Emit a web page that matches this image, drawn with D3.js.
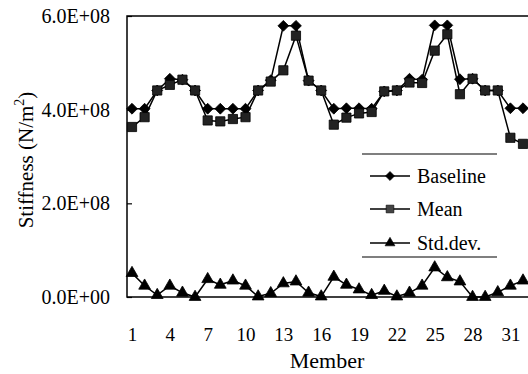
<!DOCTYPE html>
<html>
<head>
<meta charset="utf-8">
<script src="https://cdn.jsdelivr.net/npm/d3@7"></script>
<style>
  body { margin: 0; background: #fff; }
  svg text { font-family: "Liberation Serif", "Times New Roman", Tinos, "DejaVu Serif", serif; fill: #000; }
</style>
</head>
<body>
<div id="chart"></div>
<script>
// member numbers and stiffness values (x 1E+08 N/m2)
var members = d3.range(1, 33);
var baseline = [4.02, 4.02, 4.41, 4.66, 4.64, 4.41, 4.02, 4.02, 4.02, 4.02, 4.41, 4.63, 5.79, 5.79, 4.62, 4.41,
                4.02, 4.03, 4.03, 4.02, 4.39, 4.41, 4.66, 4.64, 5.80, 5.80, 4.65, 4.66, 4.41, 4.41, 4.03, 4.03];
var mean = [3.63, 3.84, 4.41, 4.53, 4.64, 4.41, 3.77, 3.75, 3.80, 3.84, 4.41, 4.60, 4.84, 5.58, 4.62, 4.41,
            3.68, 3.83, 3.92, 3.95, 4.39, 4.41, 4.58, 4.57, 5.26, 5.61, 4.33, 4.66, 4.41, 4.41, 3.40, 3.27];
var stddev = [0.51, 0.24, 0.04, 0.24, 0.09, 0.00, 0.38, 0.26, 0.35, 0.24, 0.01, 0.08, 0.29, 0.33, 0.09, 0.01,
              0.43, 0.26, 0.16, 0.04, 0.13, 0.01, 0.09, 0.24, 0.63, 0.42, 0.33, 0.00, 0.00, 0.10, 0.24, 0.35];
var xTicks = [1, 4, 7, 10, 13, 16, 19, 22, 25, 28, 31];
var yTicks = [0, 2e8, 4e8, 6e8];
var yTickLabels = ["0.0E+00", "2.0E+08", "4.0E+08", "6.0E+08"];

var width = 528, height = 374;
var plotLeft = 127, plotTop = 16, plotBottom = 297;
var serif = "'Liberation Serif', 'Times New Roman', Tinos, 'DejaVu Serif', serif";

var svg = d3.select("#chart")
    .append("svg")
    .attr("width", width)
    .attr("height", height);

var x = d3.scaleLinear()
    .domain([1, 32])
    .range([132, 523]);

var y = d3.scaleLinear()
    .domain([0, 6e8])
    .range([plotBottom, plotTop]);

// frame
svg.append("path")
    .attr("d", "M" + width + "," + plotTop + "H" + plotLeft + "V" + plotBottom + "H" + width)
    .attr("fill", "none")
    .attr("stroke", "#000")
    .attr("stroke-width", 1.5);

// y axis
var yAxis = svg.append("g")
    .attr("transform", "translate(" + plotLeft + ",0)")
    .call(d3.axisLeft(y)
        .tickValues(yTicks)
        .tickFormat((d, i) => yTickLabels[i])
        .tickSizeInner(-5)
        .tickSizeOuter(0)
        .tickPadding(17));
yAxis.attr("font-family", serif);
yAxis.select(".domain").remove();
yAxis.selectAll("line").attr("stroke-width", 1.2);
yAxis.selectAll("text")
    .attr("font-size", "20px");

// x axis
var xAxis = svg.append("g")
    .attr("transform", "translate(0," + plotBottom + ")")
    .call(d3.axisBottom(x)
        .tickValues(xTicks)
        .tickSize(0)
        .tickPadding(31));
xAxis.attr("font-family", serif);
xAxis.select(".domain").remove();
xAxis.selectAll("text")
    .attr("font-size", "19px");

// axis titles
svg.append("text")
    .attr("x", 327)
    .attr("y", 368)
    .attr("text-anchor", "middle")
    .attr("font-size", "22px")
    .text("Member");

var yTitle = svg.append("text")
    .attr("transform", "translate(33,160) rotate(-90)")
    .attr("text-anchor", "middle")
    .attr("font-size", "21px");
yTitle.append("tspan").text("Stiffness (N/m");
yTitle.append("tspan").attr("font-size", "14px").attr("dy", -9).text("2");
yTitle.append("tspan").attr("dy", 9).text(")");

var series = [
  {name: "Baseline", values: baseline, symbol: d3.symbolDiamond2, size: 75, fill: "#000"},
  {name: "Mean", values: mean, symbol: d3.symbolSquare, size: 85, fill: "#222"},
  {name: "Std.dev.", values: stddev, symbol: d3.symbolTriangle, size: 60, fill: "#000"}
];

var line = d3.line()
    .x((d, i) => x(members[i]))
    .y((d) => y(d * 1e8));

series.forEach((s) => {
  svg.append("path")
      .datum(s.values)
      .attr("d", line)
      .attr("fill", "none")
      .attr("stroke", "#000")
      .attr("stroke-width", 1.5);

  svg.append("g")
    .selectAll("path")
    .data(s.values)
    .enter()
    .append("path")
      .attr("transform", (d, i) => "translate(" + x(members[i]) + "," + y(d * 1e8) + ")")
      .attr("d", d3.symbol().type(s.symbol).size(s.size))
      .attr("fill", s.fill)
      .attr("stroke", "#000")
      .attr("stroke-width", 0.8);
});

// legend
var legend = svg.append("g");
legend.append("line")
    .attr("x1", 362).attr("x2", 497).attr("y1", 154).attr("y2", 154)
    .attr("stroke", "#000").attr("stroke-width", 1.2);
legend.append("line")
    .attr("x1", 362).attr("x2", 497).attr("y1", 257).attr("y2", 257)
    .attr("stroke", "#000").attr("stroke-width", 1.2);

var legendY = [176, 209, 243];
series.forEach((s, i) => {
  var ly = legendY[i];
  legend.append("line")
      .attr("x1", 370).attr("x2", 410).attr("y1", ly).attr("y2", ly)
      .attr("stroke", "#000").attr("stroke-width", 1.5);
  legend.append("path")
      .attr("transform", "translate(390," + ly + ")")
      .attr("d", d3.symbol().type(s.symbol).size(s.size * 0.7))
      .attr("fill", i == 1 ? "#444" : "#000")
      .attr("stroke", "#000")
      .attr("stroke-width", 0.6);
  legend.append("text")
      .attr("x", 417)
      .attr("y", ly + 7)
      .attr("font-size", "20px")
      .text(s.name);
});
</script>
</body>
</html>
